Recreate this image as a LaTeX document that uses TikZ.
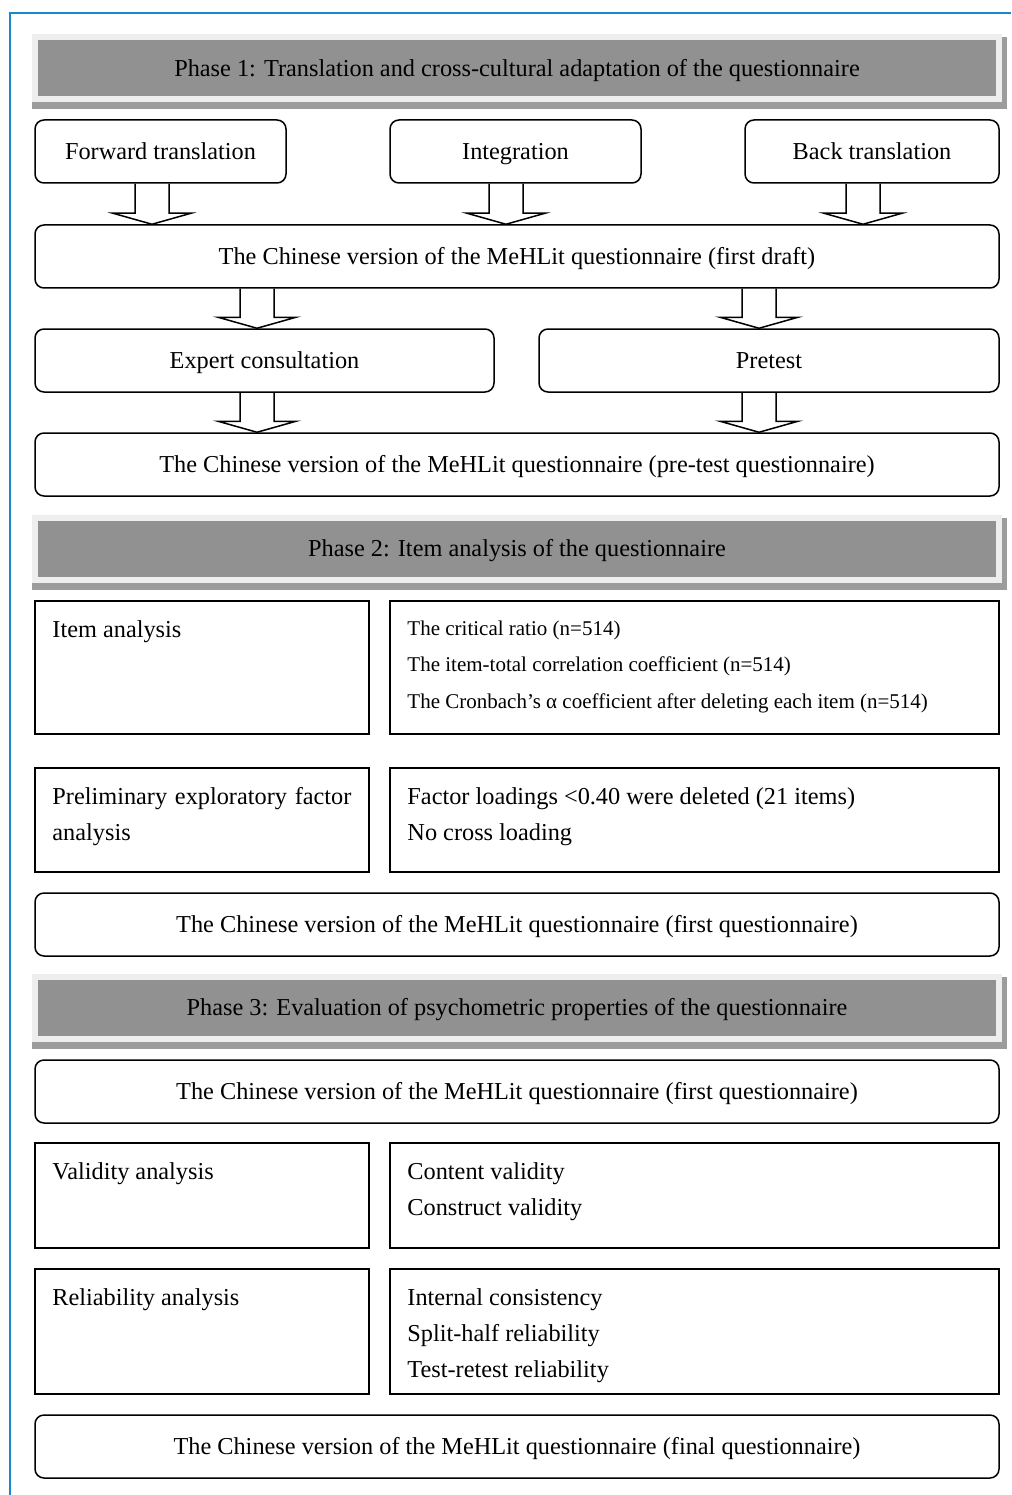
\documentclass[tikz,border=0pt]{standalone}
\usepackage{fontspec}
\setmainfont{Liberation Serif}
\usetikzlibrary{positioning,calc,backgrounds}

\definecolor{framebl}{HTML}{1A88C9}
\definecolor{bardark}{HTML}{919191}
\definecolor{barlight}{HTML}{EEEEEE}
\definecolor{barshade}{HTML}{9C9C9C}

% open block arrow from #1 down to #2, tip at x = #3
\newcommand{\hollowdown}[3]{%
  \coordinate (arrx) at (#3,0);
  \draw[hollow] ($(#1.south -| arrx)+(-17,0)$) -- ($(#2.north -| arrx)+(-17,-11)$)
    -- ++(-22,0) -- (#2.north -| arrx) -- ($(#2.north -| arrx)+(39,-11)$)
    -- ++(-22,0) -- ($(#1.south -| arrx)+(17,0)$);}

\begin{document}
\begin{tikzpicture}[x=1pt, y=-1pt,
  every node/.style={font=\fontsize{24.3}{36}\selectfont},
  phase/.style={fill=bardark, draw=barlight, line width=6pt, minimum width=964pt,
                minimum height=62pt, inner sep=0pt, text height=16.5pt, text depth=0pt},
  rbox/.style={draw, rounded corners=9pt, line width=1.5pt, minimum height=63pt, inner sep=0pt,
               text height=16.5pt, text depth=0pt},
  sbox/.style={draw, line width=1.5pt, inner sep=0pt},
  txt/.style={anchor=north west, inner sep=0pt, xshift=18pt, yshift=-20pt, align=left},
  small/.style={font=\fontsize{21}{36.5}\selectfont},
  hollow/.style={line width=1.5pt, line join=miter}]
\useasboundingbox (0,0) rectangle (1011,1495);
\draw[framebl, line width=2pt] (1011,13) -- (10,13) -- (10,1495);

% phase 1
\node[phase] (ph1) at (517,68.5) {Phase 1: Translation and cross-cultural adaptation of the questionnaire};
\node[rbox, minimum width=251pt] (fwd) at (160.5,151.5) {Forward translation};
\node[rbox, minimum width=251pt] (integ) at (515.5,151.5) {Integration};
\node[rbox, minimum width=254pt] (back) at (872,151.5) {Back translation};
\node[rbox, minimum width=964pt] (draft) at (517,256.5) {The Chinese version of the MeHLit questionnaire (first draft)};
\node[rbox, minimum width=459pt] (expert) at (264.5,360.5) {Expert consultation};
\node[rbox, minimum width=460pt] (pretest) at (769,360.5) {Pretest};
\node[rbox, minimum width=964pt] (pretq) at (517,464.5) {The Chinese version of the MeHLit questionnaire (pre-test questionnaire)};
\hollowdown{fwd}{draft}{152}
\hollowdown{integ}{draft}{506}
\hollowdown{back}{draft}{863}
\hollowdown{draft}{expert}{257}
\hollowdown{draft}{pretest}{759}
\hollowdown{expert}{pretq}{257}
\hollowdown{pretest}{pretq}{759}

% phase 2
\node[phase] (ph2) at (517,548.5) {Phase 2: Item analysis of the questionnaire};
\node[sbox, minimum width=334pt, minimum height=133pt,
  label={[txt]north west:Item analysis}] (itema) at (202,667.5) {};
\node[sbox, minimum width=609pt, minimum height=133pt,
  label={[txt,small]north west:{The critical ratio (n=514)\\The item-total correlation coefficient (n=514)\\The Cronbach’s α coefficient after deleting each item (n=514)}}] (itemr) at (694.5,667.5) {};
\node[sbox, minimum width=334pt, minimum height=104pt,
  label={[txt, text width=299pt]north west:{Preliminary\hfill exploratory\hfill factor\\analysis}}] (efa) at (202,820) {};
\node[sbox, minimum width=609pt, minimum height=104pt,
  label={[txt]north west:{Factor loadings <0.40 were deleted (21 items)\\No cross loading}}] (efar) at (694.5,820) {};
\node[rbox, minimum width=964pt] (firstq) at (517,924.5) {The Chinese version of the MeHLit questionnaire (first questionnaire)};

% phase 3
\node[phase] (ph3) at (517,1007.5) {Phase 3: Evaluation of psychometric properties of the questionnaire};
\node[rbox, minimum width=964pt] (firstqb) at (517,1091.5) {The Chinese version of the MeHLit questionnaire (first questionnaire)};
\node[sbox, minimum width=334pt, minimum height=105pt,
  label={[txt]north west:Validity analysis}] (valid) at (202,1195.5) {};
\node[sbox, minimum width=609pt, minimum height=105pt,
  label={[txt]north west:{Content validity\\Construct validity}}] (validr) at (694.5,1195.5) {};
\node[sbox, minimum width=334pt, minimum height=125pt,
  label={[txt]north west:Reliability analysis}] (relia) at (202,1331.5) {};
\node[sbox, minimum width=609pt, minimum height=125pt,
  label={[txt]north west:{Internal consistency\\Split-half reliability\\Test-retest reliability}}] (reliar) at (694.5,1331.5) {};
\node[rbox, minimum width=964pt] (finalq) at (517,1446.5) {The Chinese version of the MeHLit questionnaire (final questionnaire)};

\begin{scope}[on background layer]
  \foreach \p in {ph1,ph2,ph3}
    \fill[barshade] ($(\p.north west)+(0,3)$) rectangle ($(\p.south east)+(5,7)$);
\end{scope}
\end{tikzpicture}
\end{document}
